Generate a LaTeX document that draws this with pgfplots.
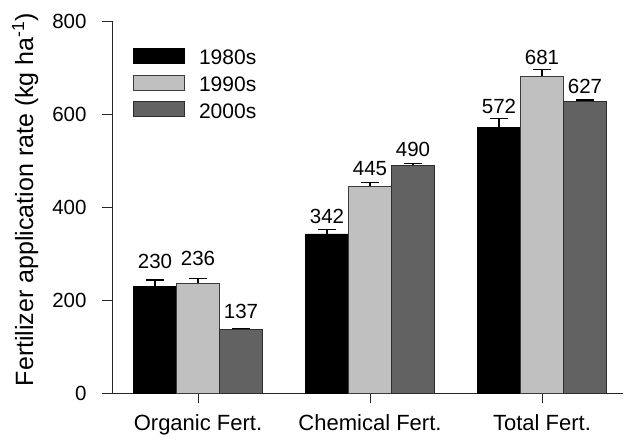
\documentclass[border=0pt]{standalone}
\usepackage{pgfplots}
\usepackage{pgfplotstable}
\pgfplotsset{compat=1.18}
\usepackage{fontspec}
\setmainfont{Liberation Sans}
\definecolor{lg}{RGB}{192,192,192}
\definecolor{lgb}{RGB}{60,60,60}
\definecolor{dg}{RGB}{98,98,98}
\definecolor{dgb}{RGB}{45,45,45}

\pgfplotstableread{
x y err gap
0 230 13 14
1 342 9 9
2 572 18 8
}\deca
\pgfplotstableread{
x y err gap
0 236 10 16
1 445 8 9.5
2 681 14 8.5
}\decb
\pgfplotstableread{
x y err gap
0 137 2 13
1 490 3 10
2 627 3 9
}\decc

\begin{document}
\begin{tikzpicture}[font=\fontsize{20}{24}\selectfont]
\begin{axis}[name=ax, scale only axis, width=511pt, height=372pt,
  xmin=-0.5, xmax=2.471, ymin=0, ymax=800,
  axis lines=left, axis line style={-, line width=0.9pt, black!85},
  xtick={0,1,2}, xticklabels={Organic Fert., Chemical Fert., Total Fert.},
  ytick={0,200,...,800}, minor tick num=0,
  tick align=outside, major tick length=10pt,
  tick style={line width=0.9pt, black!85},
  /pgf/number format/assume math mode=true,
  tick label style={font=\fontsize{20.5}{24}\selectfont},
  yticklabel style={xshift=-12pt},
  xticklabel style={yshift=-8pt, font=\fontsize{22}{26}\selectfont},
  ylabel={Fertilizer application rate (kg ha\textsuperscript{-1})},
  every axis y label/.style={at={(axis description cs:-0.17,0.52)}, rotate=90, anchor=center, font=\fontsize{25}{30}\selectfont},
  ybar=0pt, bar width=43pt,
  error bars/y dir=plus, error bars/y explicit,
  error bars/error bar style={line width=1.2pt, black},
  error bars/error mark options={rotate=90, line width=1.2pt, mark size=9pt, black},
  nodes near coords,
  visualization depends on={\thisrow{err}\as\myerr},
  visualization depends on={\thisrow{gap}\as\mygap},
  every node near coord/.append style={anchor=south, text=black, font=\fontsize{20.5}{24}\selectfont,
     yshift={\myerr*0.465pt+\mygap*1pt-6.67pt}},
  legend style={at={(axis description cs:0.041,0.928)}, anchor=north west, draw=none, fill=none,
     font=\fontsize{21}{25}\selectfont, row sep=6.5pt, inner sep=0pt,
     /tikz/every odd column/.append style={column sep=12pt}},
  legend cell align=left,
  legend image code/.code={\draw[#1] (0pt,-5.3pt) rectangle (51pt,9.7pt);},
]
\addplot[fill=black, draw=black, line width=0.9pt] table[x=x, y=y, y error=err] {\deca};
\addplot[fill=lg, draw=lgb, line width=0.9pt] table[x=x, y=y, y error=err] {\decb};
\addplot[fill=dg, draw=dgb, line width=0.9pt] table[x=x, y=y, y error=err] {\decc};
\legend{1980s,1990s,2000s}
\end{axis}
\pgfresetboundingbox
\path ([shift={(-112pt,-48pt)}]ax.south west) rectangle ([shift={(2pt,21pt)}]ax.north east);
\end{tikzpicture}
\end{document}
